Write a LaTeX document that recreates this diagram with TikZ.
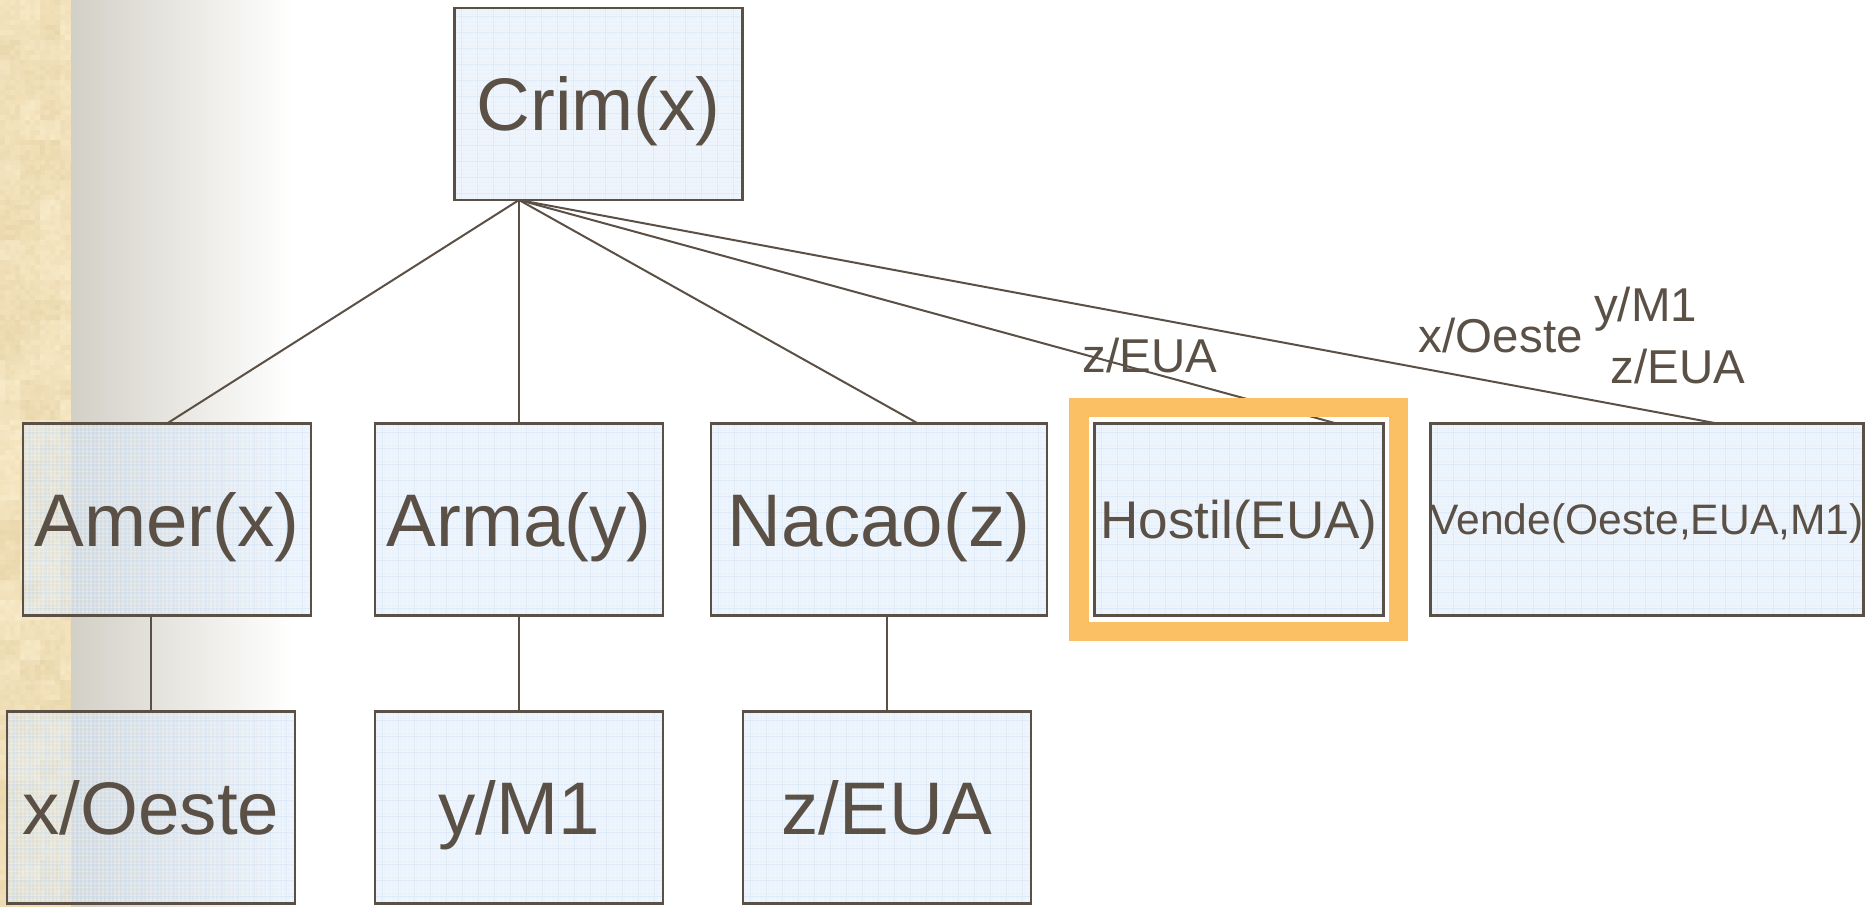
\documentclass[tikz,border=0pt]{standalone}
\usepackage{fontspec}
\setmainfont{Liberation Sans}
\usetikzlibrary{calc}
\definecolor{ink}{HTML}{5A5046}
\definecolor{hilite}{HTML}{FBC063}
\definecolor{boxblue}{HTML}{D2E3F7}
\definecolor{gridblue}{HTML}{C4DAF3}
\definecolor{parchA}{HTML}{F3E2BA}
\definecolor{parchL}{HTML}{FCF0D0}
\definecolor{parchD}{HTML}{E6D2A6}
\definecolor{gradstart}{HTML}{D2D0C6}
\newcommand{\bigfont}{\fontsize{74.5}{80}\selectfont}
\newcommand{\midfont}{\fontsize{53}{60}\selectfont}
\newcommand{\smallfont}{\fontsize{42.6}{48}\selectfont}
\newcommand{\labfont}{\fontsize{47.5}{54}\selectfont}
\tikzset{
  conn/.style={draw=ink,line width=2pt},
  gridw/.style={draw=white,line width=1.5pt,opacity=.22},
  gridb/.style={draw=gridblue,line width=1pt,opacity=.3},
  fact/.style={rectangle,inner sep=0pt,outer sep=0pt,text=ink,align=center,
    text depth=0pt,
    fill=boxblue,fill opacity=.47,text opacity=1,draw opacity=1,draw=ink,line width=2.4pt,
    path picture={
      \path[gridw] foreach \i in {0,4,...,444} {
        ($(path picture bounding box.south west)+(\i,0)$) -- ++(0,-200)};
      \path[gridw] foreach \i in {0,4,...,200} {
        ($(path picture bounding box.south west)+(0,-\i)$) -- ++(444,0)};
      \path[gridb] foreach \i in {7,23,...,444} {
        ($(path picture bounding box.south west)+(\i,0)$) -- ++(0,-200)};
      \path[gridb] foreach \i in {7,23,...,200} {
        ($(path picture bounding box.south west)+(0,-\i)$) -- ++(444,0)};
    }},
  bigt/.style={font=\bigfont,text height=53.3pt},
  midt/.style={font=\midfont,text height=38pt},
  smallt/.style={font=\smallfont,text height=30.5pt},
  wide/.style={minimum width=288pt,minimum height=192pt},
  lab/.style={inner sep=0pt,text=ink,text height=34pt,text depth=0pt,font=\labfont},
}
\begin{document}
\begin{tikzpicture}[x=1pt,y=-1pt]
\useasboundingbox (0,0) rectangle (1875,907);
% background
\shade[left color=gradstart,right color=white,shading angle=90,draw=none]
  (71,0) rectangle (292,907);
\fill[parchA] (0,0) rectangle (71,907);
\pgfmathsetseed{4711}
\foreach \yy in {0,20,...,900}{
  \foreach \xx in {0,20,40,60}{
    \pgfmathsetmacro{\mixv}{int(random(0,100))}
    \fill[parchL!\mixv!parchD,opacity=.55] (\xx,\yy) rectangle ({min(\xx+20.5,71)},\yy+20.5);
  }
}
\foreach \yy in {0,5,...,905}{
  \foreach \xx in {0,5,...,70}{
    \pgfmathsetmacro{\mixv}{int(random(0,100))}
    \fill[parchL!\mixv!parchD,opacity=.25] (\xx,\yy) rectangle ({min(\xx+5,71)},\yy+5);
  }
}
% boxes
\node[fact,wide,bigt] (crim) at (598.5,104) {Crim(x)};
\node[fact,wide,bigt] (amer) at (167,519.5) {Amer(x)};
\node[fact,wide,bigt] (arma) at (519,519.5) {Arma(y)};
\node[fact,minimum width=336pt,minimum height=192pt,bigt] (nacao) at (879,519.5) {Nacao(z)};
\node[fact,minimum width=289pt,minimum height=192pt,midt] (hostil) at (1239,519.5) {Hostil(EUA)};
\node[fact,minimum width=432pt,minimum height=192pt,smallt] (vende) at (1647,519.5) {Vende(Oeste,EUA,M1)};
\node[fact,wide,bigt] (oeste) at (151,807.5) {x/Oeste};
\node[fact,wide,bigt] (m1) at (519,807.5) {y/M1};
\node[fact,wide,bigt] (eua) at (887,807.5) {z/EUA};
% connectors
\coordinate (crimout) at ($(crim.south west)+(64.5,0)$);
\draw[conn] (crimout) -- ($(amer.north west)+(144,0)$);
\draw[conn] (crimout) -- (arma.north);
\draw[conn] (crimout) -- ($(nacao.north west)+(207,0)$);
\draw[conn] (crimout) -- ($(hostil.north west)+(242,0)$);
\draw[conn] (crimout) -- ($(vende.north west)+(287,0)$);
\draw[conn] (oeste.north) -- (oeste.north |- amer.south);
\draw[conn] (arma.south) -- (m1.north);
\draw[conn] (eua.north) -- (eua.north |- nacao.south);
% highlight
\draw[draw=hilite,line width=19.5pt] (1079,407.5) rectangle (1398.5,631.5);
% labels
\node[lab] (l1) at (1150,355) {z/EUA};
\node[lab] (l2) at (1500.8,335) {x/Oeste};
\node[lab] (l3) at (1645.5,304) {y/M1};
\node[lab] (l4) at (1678,366) {z/EUA};
\end{tikzpicture}
\end{document}
